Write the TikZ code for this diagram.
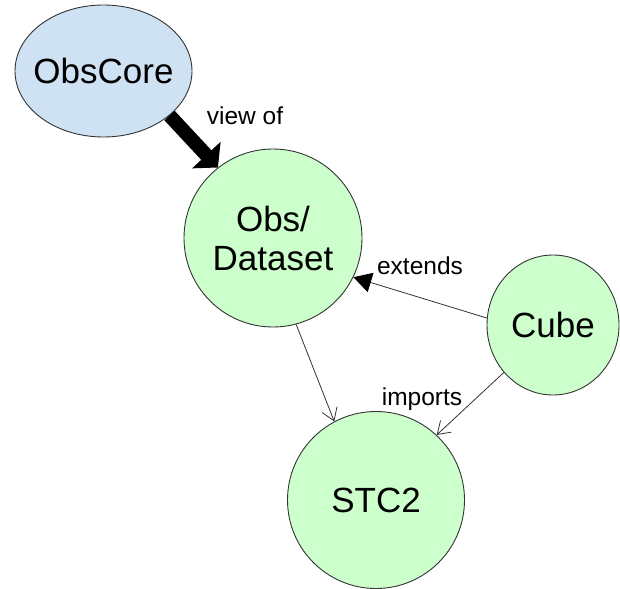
\documentclass[tikz,border=0pt]{standalone}
\usepackage{fontspec}
\setmainfont{Liberation Sans}
\usetikzlibrary{arrows.meta,shapes.geometric}
\definecolor{bluefill}{HTML}{CFE2F3}
\definecolor{greenfill}{HTML}{CCFFCC}
\definecolor{edgegray}{HTML}{333333}
\begin{document}
\begin{tikzpicture}[x=1pt,y=-1pt,
  nodetext/.style={font=\fontsize{35}{39}\selectfont},
  bubble/.style={draw=black!80, line width=0.9pt, fill=greenfill, inner sep=0pt},
  thinedge/.style={draw=edgegray, line width=0.8pt},
  lbl/.style={font=\fontsize{24.5}{28}\selectfont, anchor=base}]
\useasboundingbox (0,0) rectangle (620,588);
\clip (0,0) rectangle (620,588);
\node[bubble, ellipse, fill=bluefill, minimum width=177pt, minimum height=132pt,
      label={[nodetext]center:ObsCore}] (oc) at (103.5,71) {};
\node[bubble, circle, minimum size=178pt, nodetext, align=center] (obs) at (273,238) {Obs/\\Dataset};
\node[bubble, ellipse, minimum width=132pt, minimum height=140pt, nodetext] (cube) at (553,325) {Cube};
\node[bubble, circle, minimum size=177pt, nodetext] (stc) at (376,500) {STC2};
\draw[line width=14pt, -{Triangle[length=17pt,width=38pt]}] (oc.-34.5) -- (obs.128);
\draw[thinedge, -{Triangle[length=18pt,width=20pt,color=black]}] (cube.174.8) -- (obs.-26);
\draw[thinedge, -{Straight Barb[length=12pt,width=16pt]}] (cube.224) -- (stc.47.6);
\draw[thinedge, -{Straight Barb[length=12pt,width=16pt]}] (obs.-75) -- (stc.118.5);
\node[lbl] (lv) at (245,125) {view of};
\node[lbl] (le) at (420,274) {extends};
\node[lbl] (li) at (422,405) {imports};
\end{tikzpicture}
\end{document}
